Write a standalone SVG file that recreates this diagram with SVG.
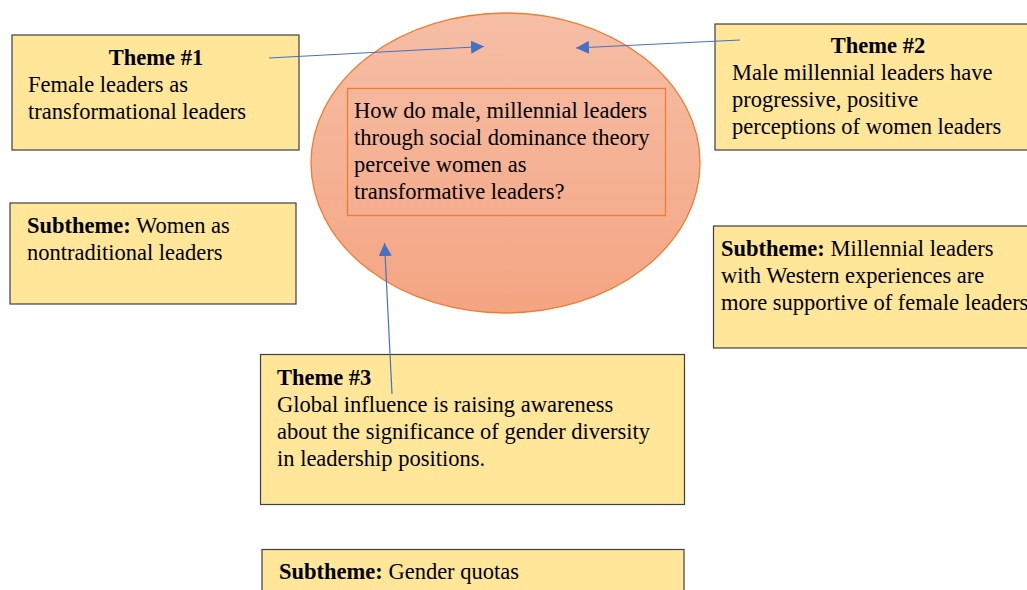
<svg xmlns="http://www.w3.org/2000/svg" width="1027" height="590" viewBox="0 0 1027 590">
<style>
.box{fill:#FFE699;stroke:#404040;stroke-width:1.2}
.t{font-family:"Liberation Serif","Times New Roman",serif;font-size:22.5px;fill:#000}
.b{font-weight:bold}
.conn{stroke:#4472C4;stroke-width:1.2;fill:none}
</style>
<defs>
<linearGradient id="eg" x1="0" y1="0" x2="0" y2="1">
<stop offset="0" stop-color="#F6BEA6"/>
<stop offset="1" stop-color="#F4A582"/>
</linearGradient>
<marker id="ah" markerUnits="userSpaceOnUse" markerWidth="14" markerHeight="13" refX="13" refY="6.5" orient="auto">
<path d="M0,0 L13,6.5 L0,13 Z" fill="#4472C4"/>
</marker>
</defs>
<rect width="1027" height="590" fill="#fff"/>

<g id="theme1">
<rect class="box" x="12" y="35" width="287" height="115"/>
<text class="t b" x="156" y="65" text-anchor="middle">Theme #1</text>
<text class="t" x="28" y="92">Female leaders as</text>
<text class="t" x="28" y="119">transformational leaders</text>
</g>

<g id="subtheme1">
<rect class="box" x="10" y="203" width="286" height="101"/>
<text class="t" x="27" y="233"><tspan class="b">Subtheme:</tspan> Women as</text>
<text class="t" x="27" y="260">nontraditional leaders</text>
</g>

<g id="question">
<ellipse cx="505.5" cy="163" rx="194.5" ry="150" fill="url(#eg)" stroke="#ED7D31" stroke-width="1.3"/>
<rect x="347.5" y="88.5" width="318" height="127" fill="none" stroke="#ED7D31" stroke-width="1.3"/>
<text class="t" x="354" y="118">How do male, millennial leaders</text>
<text class="t" x="354" y="145">through social dominance theory</text>
<text class="t" x="354" y="172">perceive women as</text>
<text class="t" x="354" y="199">transformative leaders?</text>
</g>

<g id="theme2">
<rect class="box" x="715" y="24" width="330" height="126"/>
<text class="t b" x="878" y="53" text-anchor="middle">Theme #2</text>
<text class="t" x="732" y="80">Male millennial leaders have</text>
<text class="t" x="732" y="107">progressive, positive</text>
<text class="t" x="732" y="134">perceptions of women leaders</text>
</g>

<g id="subtheme2">
<rect class="box" x="713.5" y="226" width="330" height="122"/>
<text class="t" x="721" y="256"><tspan class="b">Subtheme:</tspan> Millennial leaders</text>
<text class="t" x="721" y="283">with Western experiences are</text>
<text class="t" x="721" y="310">more supportive of female leaders</text>
</g>

<g id="theme3">
<rect class="box" x="260.5" y="354.5" width="424" height="150"/>
<text class="t b" x="277" y="385">Theme #3</text>
<text class="t" x="277" y="412">Global influence is raising awareness</text>
<text class="t" x="277" y="439">about the significance of gender diversity</text>
<text class="t" x="277" y="466">in leadership positions.</text>
</g>

<g id="subtheme3">
<rect class="box" x="262" y="549.5" width="422" height="60"/>
<text class="t" x="279" y="579"><tspan class="b">Subtheme:</tspan> Gender quotas</text>
</g>

<g id="connectors">
<line class="conn" x1="269" y1="58" x2="484" y2="46.5" marker-end="url(#ah)"/>
<line class="conn" x1="740" y1="40" x2="576" y2="48" marker-end="url(#ah)"/>
<line class="conn" x1="392" y1="394" x2="384.5" y2="243" marker-end="url(#ah)"/>
</g>
</svg>
